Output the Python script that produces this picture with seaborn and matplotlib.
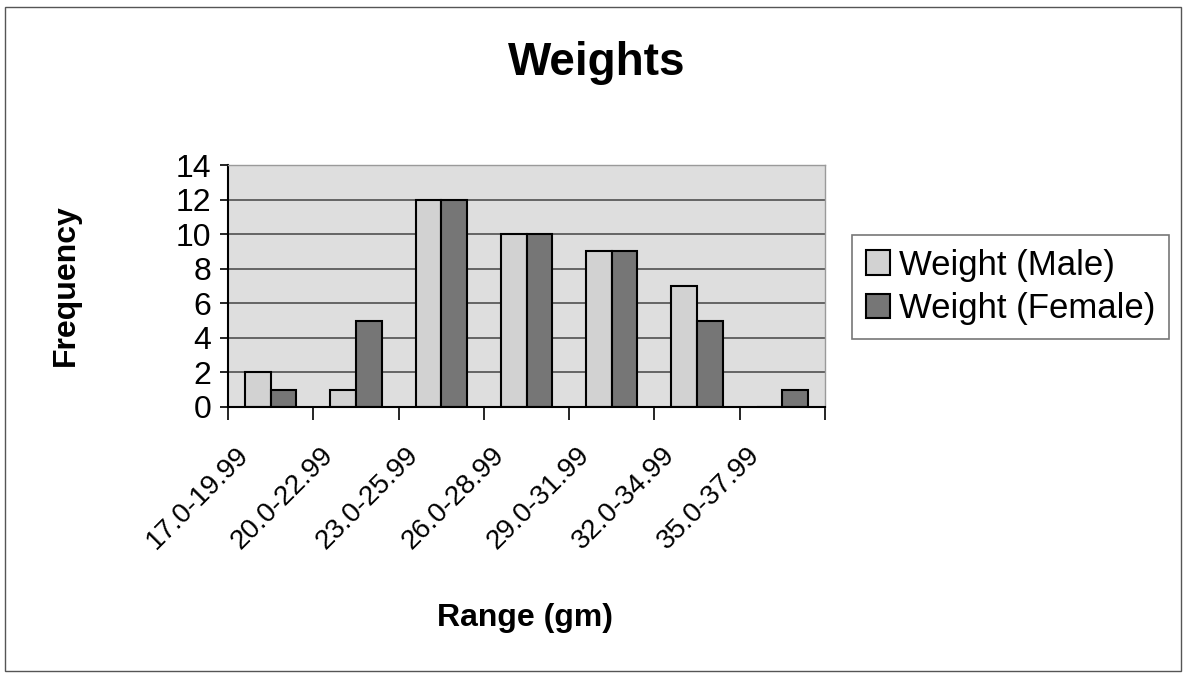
import pandas as pd
import matplotlib.pyplot as plt
import matplotlib.transforms as mtransforms
from matplotlib.patches import Rectangle
import seaborn as sns

# Dữ liệu
ranges = ['17.0-19.99', '20.0-22.99', '23.0-25.99', '26.0-28.99',
          '29.0-31.99', '32.0-34.99', '35.0-37.99']
male = [2, 1, 12, 10, 9, 7, 0]
female = [1, 5, 12, 10, 9, 5, 1]
series = ['Weight (Male)', 'Weight (Female)']

df = pd.DataFrame({
    'Range': ranges * 2,
    'Frequency': male + female,
    'Series': [series[0]] * len(ranges) + [series[1]] * len(ranges),
})

sns.set_style('white')
plt.rcParams['font.family'] = ['Liberation Sans', 'DejaVu Sans']
plt.rcParams['text.color'] = 'black'
plt.rcParams['xtick.color'] = 'black'
plt.rcParams['ytick.color'] = 'black'

fig = plt.figure(figsize=(11.88, 6.74), dpi=100)
ax = fig.add_axes([228 / 1188, 1 - 407 / 674, (825 - 228) / 1188, (407 - 165) / 674])

sns.barplot(data=df, x='Range', y='Frequency', hue='Series', ax=ax,
            palette=['#d2d2d2', '#767676'], width=0.6,
            edgecolor='black', linewidth=1.5, saturation=1, legend=True)

ax.set_facecolor('#dedede')
ax.set_xlim(-0.5, len(ranges) - 0.5)
ax.set_ylim(0, 14)
ax.set_yticks(range(0, 15, 2))
ax.yaxis.grid(True, color='#505050', linewidth=1.2)
ax.set_axisbelow(True)

for s in ['top', 'right']:
    ax.spines[s].set_color('#9a9a9a')
    ax.spines[s].set_linewidth(1)
for s in ['left', 'bottom']:
    ax.spines[s].set_color('black')
    ax.spines[s].set_linewidth(1.5)

# nhãn trục x xoay 45 độ, vạch chia ở ranh giới các nhóm
ax.set_xticks(range(len(ranges)))
ax.set_xticklabels(ranges, rotation=45, ha='right', va='top', fontsize=20)
ax.set_xticks([i - 0.5 for i in range(len(ranges) + 1)], minor=True)
ax.tick_params(axis='x', which='major', length=0, pad=25)
ax.tick_params(axis='x', which='minor', bottom=True, length=9, width=1.2,
               color='black', direction='out')
ax.tick_params(axis='y', length=6, width=1.2, color='black', direction='out',
               labelsize=23, pad=6, left=True)
offset = mtransforms.ScaledTranslation(-0.17, 0, fig.dpi_scale_trans)
for lbl in ax.get_xticklabels():
    lbl.set_transform(lbl.get_transform() + offset)

ax.set_xlabel('')
ax.set_ylabel('')
fig.text(597 / 1188, 1 - 63 / 674, 'Weights', ha='center', va='center',
         fontsize=33, fontweight='bold')
fig.text(66 / 1188, 1 - 285 / 674, 'Frequency', ha='center', va='center',
         rotation=90, fontsize=23, fontweight='bold')
fig.text(525 / 1188, 1 - 618 / 674, 'Range (gm)', ha='center', va='center',
         fontsize=23, fontweight='bold')

ax.legend(title=None, loc='center left', bbox_to_anchor=(852 / 1188, 1 - 287 / 674),
          bbox_transform=fig.transFigure, fontsize=25, frameon=True, fancybox=False,
          edgecolor='#555555', handlelength=0.7, handleheight=0.7, handletextpad=0.25,
          borderpad=0.4, labelspacing=0.3, borderaxespad=0)
ax.get_legend().get_frame().set_linewidth(1.2)

fig.patches.append(Rectangle((0.004, 0.004), 0.99, 0.985, transform=fig.transFigure,
                             fill=False, edgecolor='#555555', linewidth=1))

fig.savefig('out.png', dpi=100, facecolor='white')
